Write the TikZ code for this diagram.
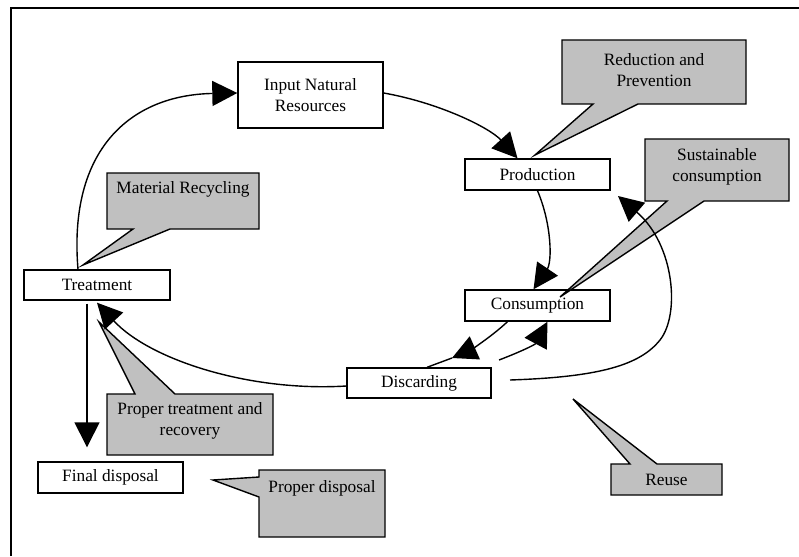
\documentclass[tikz,border=0pt]{standalone}
\usepackage{fontspec}
\setmainfont{Liberation Serif}
\usetikzlibrary{arrows.meta}
\definecolor{calloutgray}{HTML}{C0C0C0}
\begin{document}
\begin{tikzpicture}[x=1pt,y=-1pt,
  txt/.style={font=\fontsize{17.3}{21.5}\selectfont},
  box/.style={txt, draw, line width=1.4pt, fill=white, minimum width=145pt, minimum height=31pt, inner sep=0pt, align=center},
  callout/.style={draw, line width=1.4pt, fill=calloutgray, line join=miter},
  ctext/.style={txt, align=center, inner sep=0pt},
  conn/.style={line width=1.4pt, -{Triangle[length=25pt,width=25pt]}},
  plainline/.style={line width=1.4pt}]
\useasboundingbox (0,0) rectangle (799,556);
% frame
\draw[line width=1.6pt] (11,556) -- (11,8) -- (799,8);

% boxes
\node[box, minimum height=66pt] (input) at (310.5,95) {Input Natural\\Resources};
\node[box] (production) at (537.5,174.5) {Production};
\node[box] (consumption) at (537.5,305.5) {Consumption};
\node[box, minimum width=144pt, minimum height=30pt] (discarding) at (419,383) {Discarding};
\node[box, minimum width=146pt, minimum height=30pt] (treatment) at (97,285) {Treatment};
\node[box] (finaldisp) at (110.5,477.5) {Final disposal};

% callouts
\draw[callout] (562,40) -- (746,40) -- (746,104) -- (638,104) -- (535,155) -- (593,104) -- (562,104) -- cycle;
\node[ctext] (reduction) at (654,70) {Reduction and\\Prevention};

\draw[callout] (645,139) -- (789,139) -- (789,201) -- (704,201) -- (560,297) -- (667,201) -- (645,201) -- cycle;
\node[ctext] (sustain) at (717,167) {Sustainable\\consumption};

\draw[callout] (107,173) -- (259,173) -- (259,229) -- (170,229) -- (83,265) -- (133,229) -- (107,229) -- cycle;
\node[ctext] (recycling) at (183,189) {Material Recycling};

\draw[callout] (107,394) -- (135,394) -- (99,322) -- (175,394) -- (273,394) -- (273,455) -- (107,455) -- cycle;
\node[ctext] (proptreat) at (190,421) {Proper treatment and\\recovery};

\draw[callout] (259,470) -- (385,470) -- (385,537) -- (259,537) -- (259,497) -- (213,480) -- (259,477) -- cycle;
\node[ctext] (propdisp) at (322,488) {Proper disposal};

\draw[callout] (611,464) -- (630,464) -- (573,399) -- (657,464) -- (722,464) -- (722,495) -- (611,495) -- cycle;
\node[ctext] (reuse) at (666.5,480) {Reuse};

% connectors
\draw[conn] ([xshift=-19pt]treatment.north) .. controls (68,150) and (130,95) .. ([yshift=2pt]input.west);
\draw[conn] ([yshift=2pt]input.east) .. controls (440,103) and (490,128) .. ([xshift=-20pt]production.north);
\draw[conn] (production.south) .. controls (552,225) and (552,262) .. ([xshift=-4pt]consumption.north);
\coordinate (cdtip) at (452,358);
\draw[conn] ([xshift=-30pt]consumption.south) .. controls (490,338) and (470,350) .. (cdtip);
\draw[plainline] (cdtip) -- ([xshift=8pt]discarding.north);
\coordinate (dcstart) at (499,360);
\draw[conn] (dcstart) .. controls (515,354) and (535,345) .. ([xshift=10pt]consumption.south);
\coordinate (reusestart) at (510,380);
\coordinate (reusemid) at (660,340);
\coordinate (reusetip) at (618,196);
\draw[conn] (reusestart) .. controls (600,377) and (640,365) .. (reusemid) .. controls (680,315) and (675,245) .. (reusetip);
\draw[conn] ([yshift=-3pt]discarding.west) .. controls (250,392) and (150,360) .. ([yshift=-2pt]treatment.south);
\draw[conn] ([xshift=-10pt,yshift=-3pt]treatment.south) -- ([xshift=-23.5pt,yshift=14pt]finaldisp.north);
\end{tikzpicture}
\end{document}
